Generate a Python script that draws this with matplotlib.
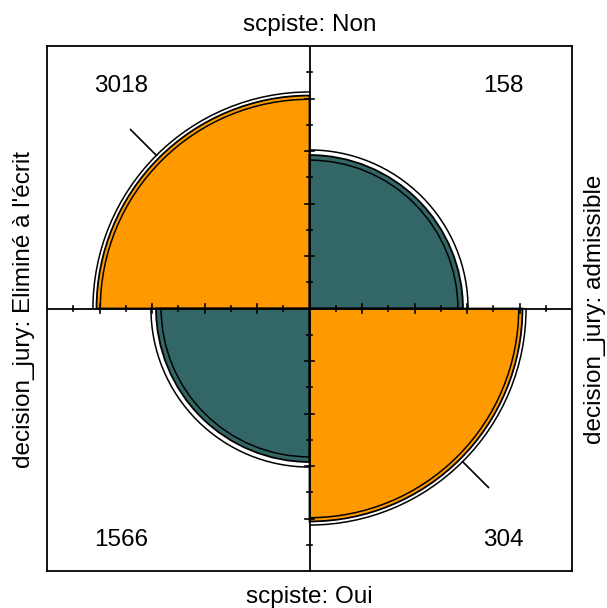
import numpy as np
import matplotlib
matplotlib.use("Agg")
import matplotlib.pyplot as plt
from matplotlib.patches import Wedge, Arc

# data: decision_jury x scpiste
scpiste_levels = ["Non", "Oui"]
decision_levels = ["Eliminé à l'écrit", "admissible"]
counts_non = [3018, 158]
counts_oui = [1566, 304]

col_diag = "#FF9900"
col_off = "#336666"

plt.rcParams['font.family'] = ['Liberation Sans', 'DejaVu Sans']

a, b = counts_non
c, d = counts_oui

# margin-standardised table (same odds ratio, equal margins)
def std_cells(theta):
    s = np.sqrt(theta)
    u = s / (1 + s)
    return u, 1 - u

theta = (a * d) / (b * c)
se = np.sqrt(1 / a + 1 / b + 1 / c + 1 / d)
z = 1.959964
u, v = std_cells(theta)
u_lo, v_lo = std_cells(theta * np.exp(-z * se))
u_hi, v_hi = std_cells(theta * np.exp(z * se))

W, H = 607, 608
fig = plt.figure(figsize=(W / 100, H / 100), dpi=100)
ax = fig.add_axes([47 / W, (H - 571) / H, 525 / W, 525 / H])
ax.set_xlim(-1, 1)
ax.set_ylim(-1, 1)
ax.set_xticks([])
ax.set_yticks([])
for sp in ax.spines.values():
    sp.set_linewidth(1.3)

# quadrants: (angle from, angle to, standardised value, ring lo, ring hi, colour)
quads = [
    (90, 180, u, u_lo, u_hi, col_diag),     # Non / Eliminé
    (0, 90, v, v_lo, v_hi, col_off),        # Non / admissible
    (180, 270, v, v_lo, v_hi, col_off),     # Oui / Eliminé
    (270, 360, u, u_lo, u_hi, col_diag),    # Oui / admissible
]
for t1, t2, p, plo, phi, col in quads:
    r = np.sqrt(p)
    ax.add_patch(Wedge((0, 0), r, t1, t2, facecolor=col, edgecolor='black', lw=1.3, zorder=2))
    for pp in (plo, phi):
        rr = np.sqrt(pp)
        ax.add_patch(Arc((0, 0), 2 * rr, 2 * rr, theta1=t1, theta2=t2, color='black', lw=1.1, zorder=3))

# axes through the centre with ticks
ax.plot([-1, 1], [0, 0], color='black', lw=1.3, zorder=4)
ax.plot([0, 0], [-1, 1], color='black', lw=1.3, zorder=4)
for k in range(1, 10):
    t = 0.1 * k
    h = 0.017 if k % 2 == 0 else 0.011
    for s in (-1, 1):
        ax.plot([s * t, s * t], [-h, h], color='black', lw=1.2, zorder=4)
        ax.plot([-h, h], [s * t, s * t], color='black', lw=1.2, zorder=4)

# short marks outside the large quadrants
r_out = np.sqrt(u_hi)
for ang in (135, 315):
    ca, sa = np.cos(np.radians(ang)), np.sin(np.radians(ang))
    ax.plot([r_out * ca, 0.964 * ca], [r_out * sa, 0.964 * sa], color='black', lw=1.2, zorder=3)

# cell counts
fs = 17.5
ax.text(-0.717, 0.826, str(a), ha='center', va='baseline', fontsize=fs)
ax.text(0.740, 0.826, str(b), ha='center', va='baseline', fontsize=fs)
ax.text(-0.717, -0.904, str(c), ha='center', va='baseline', fontsize=fs)
ax.text(0.740, -0.904, str(d), ha='center', va='baseline', fontsize=fs)

# margin labels
fig.text(309.5 / W, 1 - 31 / H, "scpiste: " + scpiste_levels[0], ha='center', va='baseline', fontsize=fs)
fig.text(309.5 / W, 1 - 603 / H, "scpiste: " + scpiste_levels[1], ha='center', va='baseline', fontsize=fs)
fig.text(30 / W, 1 - 309 / H, "decision_jury: " + decision_levels[0], rotation=90,
         rotation_mode='anchor', ha='center', va='baseline', fontsize=fs)
fig.text(601 / W, 1 - 309 / H, "decision_jury: " + decision_levels[1], rotation=90,
         rotation_mode='anchor', ha='center', va='baseline', fontsize=fs)

fig.savefig("out.png", dpi=100)
